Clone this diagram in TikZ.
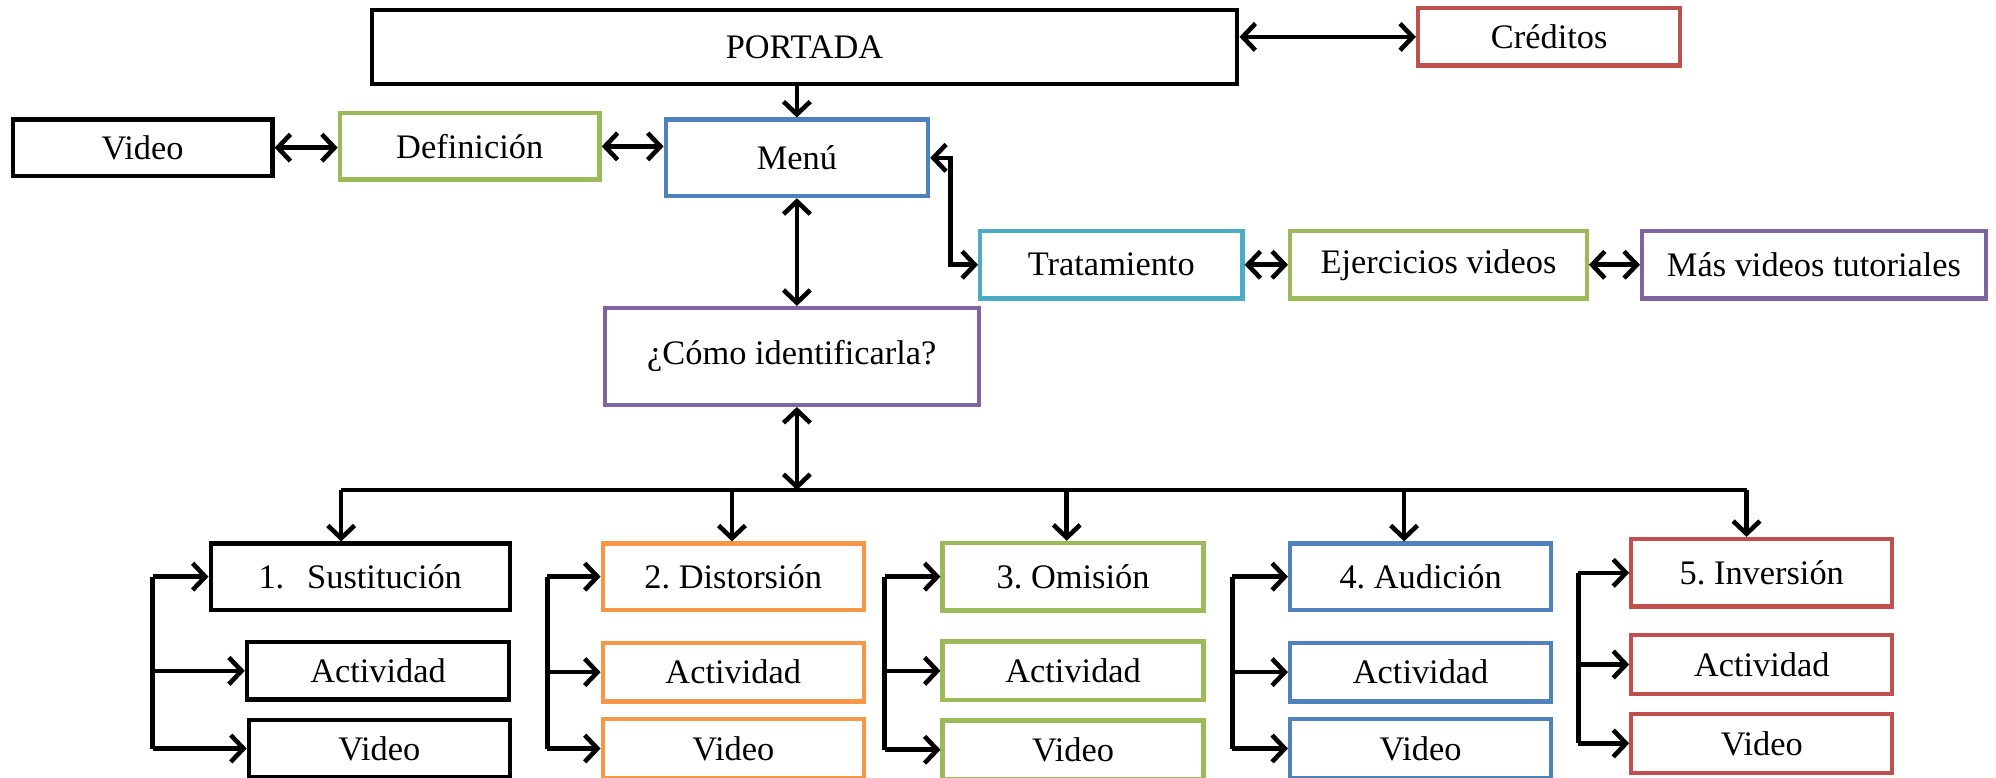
\documentclass[tikz,border=0pt]{standalone}
\usepackage{fontspec}
\setmainfont{Liberation Serif}
\usetikzlibrary{positioning}
\usetikzlibrary{arrows.meta}

\definecolor{verde}{RGB}{155,187,89}
\definecolor{azul}{RGB}{79,129,189}
\definecolor{rojo}{RGB}{192,80,77}
\definecolor{morado}{RGB}{128,100,162}
\definecolor{celeste}{RGB}{75,172,198}
\definecolor{naranja}{RGB}{247,150,70}

\begin{document}
\frenchspacing
\begin{tikzpicture}[
      x=1pt,y=-1pt,
      font=\fontsize{27}{31}\selectfont,
      >={Straight Barb[length=10pt,width=21pt]},
      caja/.style={draw,line width=3.4pt,inner sep=0pt,minimum width=205pt,minimum height=46pt},
      flecha/.style={line width=3.6pt},
    ]
        \useasboundingbox (0,0) rectangle (1568,611);

        % parte superior
        \node[caja,minimum width=680pt,minimum height=58pt] (portada) at (632,37) {PORTADA};
        \node[caja,rojo,text=black,minimum width=206pt,minimum height=45pt] (creditos) at (1217,29) {Créditos};
        \node[caja,minimum width=204pt,minimum height=44pt] (video) at (112,116) {Video};
        \node[caja,verde,text=black,minimum width=204pt,minimum height=52pt] (definicion) at (369,115) {Definición};
        \node[caja,azul,text=black,minimum width=206pt,minimum height=60pt] (menu) at (626,124) {Menú};
        \node[caja,celeste,text=black,minimum width=206pt,minimum height=53pt] (tratamiento) at (873,208) {Tratamiento};
        \node[caja,verde,text=black,minimum width=233pt,minimum height=53pt] (ejercicios) at (1130,208) {Ejercicios videos};
        \node[caja,morado,text=black,minimum width=270pt,minimum height=53pt] (mas) at (1425,208) {Más videos tutoriales};
        \node[caja,morado,text=black,minimum width=294pt,minimum height=76pt] (como) at (622,280) {¿Cómo identificarla?};

        % grupos
        \node[caja,minimum width=235pt,minimum height=52pt] (s1) at (283,453) {1.\hspace{18pt}Sustitución};
        \node[caja,minimum width=206pt,minimum height=45pt] (a1) at (297,527) {Actividad};
        \node[caja,minimum width=205pt,minimum height=45pt] (v1) at (298,588) {Video};

        \node[caja,naranja,text=black,minimum height=52pt] (s2) at (576,453) {2. Distorsión};
        \node[caja,naranja,text=black] (a2) at (576,528) {Actividad};
        \node[caja,naranja,text=black] (v2) at (576,588) {Video};

        \node[caja,verde,text=black,minimum height=53pt] (s3) at (843,453) {3. Omisión};
        \node[caja,verde,text=black] (a3) at (843,527) {Actividad};
        \node[caja,verde,text=black] (v3) at (843,589) {Video};

        \node[caja,azul,text=black,minimum height=52pt] (s4) at (1116,453) {4. Audición};
        \node[caja,azul,text=black] (a4) at (1116,528) {Actividad};
        \node[caja,azul,text=black] (v4) at (1116,588) {Video};

        \node[caja,rojo,text=black,minimum height=53pt] (s5) at (1384,450) {5. Inversión};
        \node[caja,rojo,text=black] (a5) at (1384,522) {Actividad};
        \node[caja,rojo,text=black] (v5) at (1384,584) {Video};

        % conexiones de arriba
        \draw[flecha,<->] (portada.east |- creditos) -- (creditos.west);
        \draw[flecha,->] (portada.south -| menu) -- (menu.north);
        \draw[flecha,<->] (video.east) -- (definicion.west |- video);
        \draw[flecha,<->] (definicion.east) -- (menu.west |- definicion);
        \draw[flecha,<->] (menu.east) -- ++(16,0) |- (tratamiento.west);
        \draw[flecha,<->] (tratamiento.east) -- (ejercicios.west);
        \draw[flecha,<->] (ejercicios.east) -- (mas.west);
        \draw[flecha,<->] (menu.south) -- (menu.south |- como.north);

        % barra y bajadas
        \coordinate (d1) at (268,385);
        \coordinate (d2) at (575,385);
        \coordinate (d3) at (838,385);
        \coordinate (d4) at (1103,385);
        \coordinate (d5) at (1372,385);
        \draw[flecha] (d1) -- (d5);
        \draw[flecha,<->] (como.south -| menu) -- (menu |- d1);
        \foreach \g in {1,...,5}
            \draw[flecha,->] (d\g) -- (d\g |- s\g.north);

        % corchetes de cada grupo
        \foreach \g/\bx in {1/120,2/430,3/695,4/968,5/1240}{
            \coordinate (k\g) at (\bx,0);
            \draw[flecha] (s\g.west -| k\g) -- (v\g.west -| k\g);
            \foreach \n in {s,a,v}
                \draw[flecha,->] (\n\g.west -| k\g) -- (\n\g.west);
        }
    \end{tikzpicture}
\end{document}
